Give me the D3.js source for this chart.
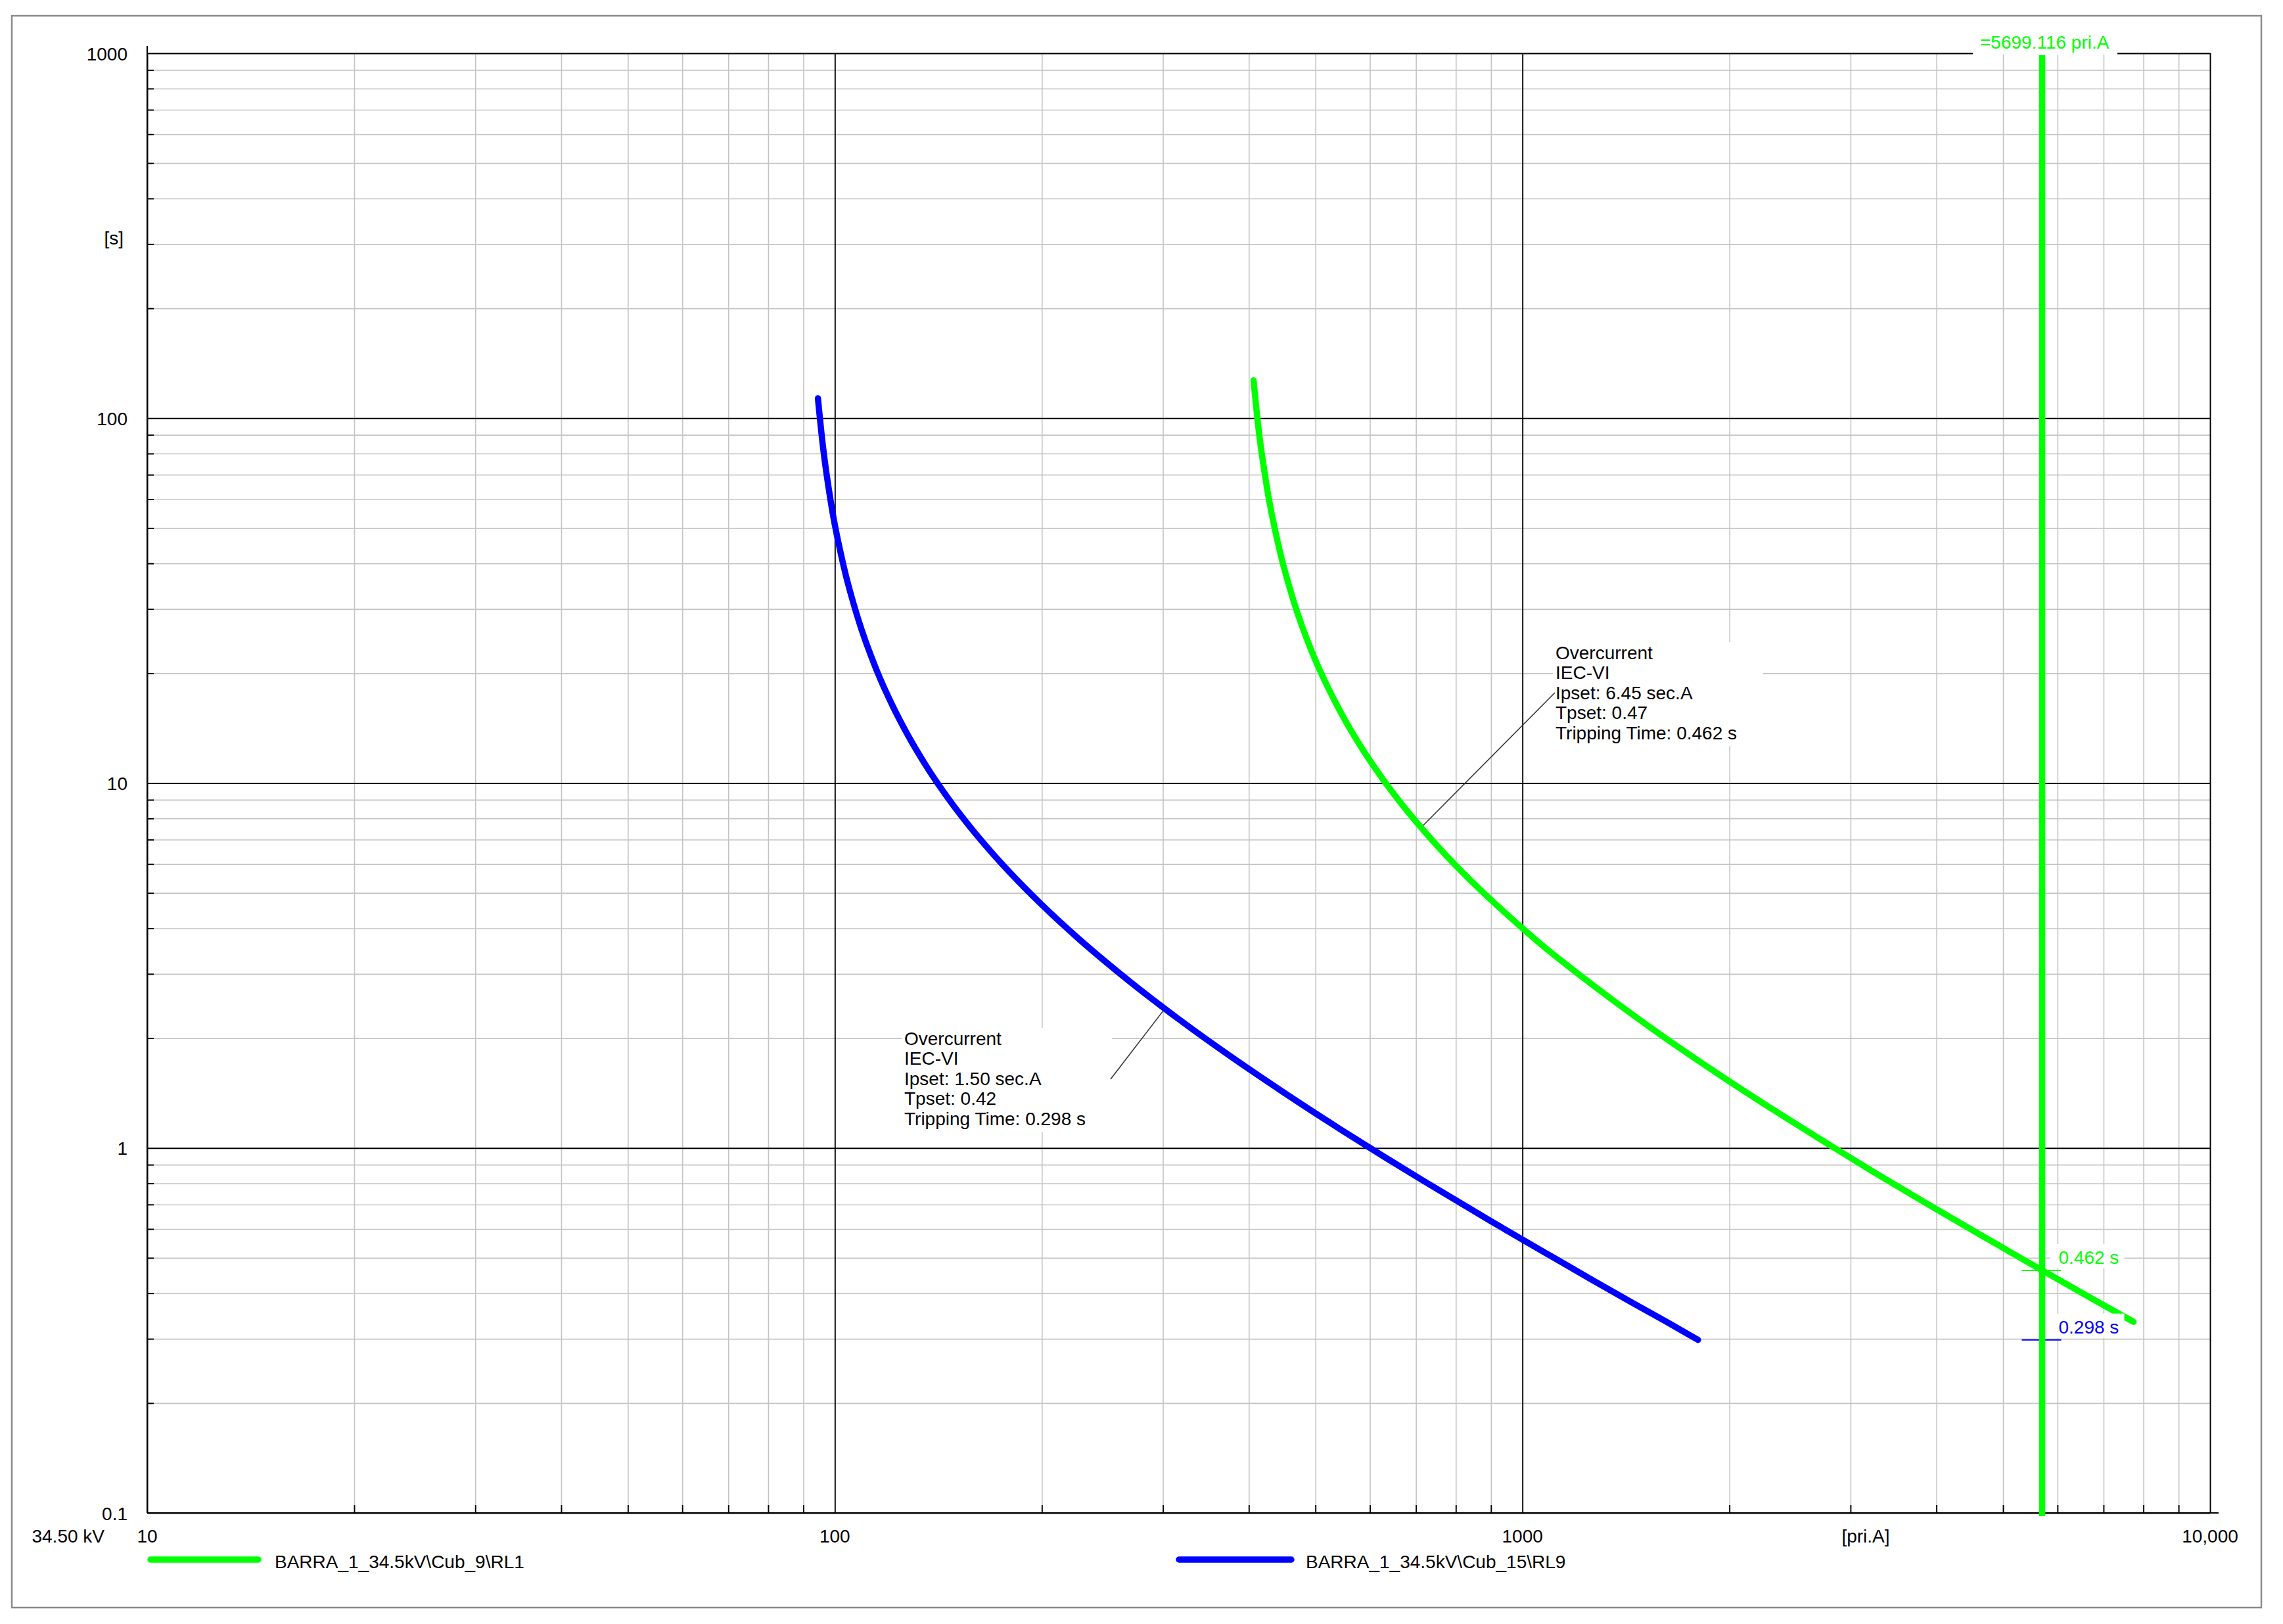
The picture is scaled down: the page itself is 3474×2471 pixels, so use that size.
<!DOCTYPE html>
<html lang="en">
<head>
<meta charset="utf-8">
<style>
	html, body { margin: 0; padding: 0; background: white; }
	svg { display: block; font-family: "Liberation Sans", Arial, sans-serif; }
	.minor line { stroke: #c4c4c4; stroke-width: 1.6px; }
	.major line { stroke: black; stroke-width: 1.9px; }
	.tickmarks line { stroke: black; stroke-width: 1.9px; }
	.lbl { font-size: 28px; fill: black; }
	.curve { fill: none; stroke-width: 9.5px; stroke-linecap: round; stroke-linejoin: round; }
</style>
<script src="https://cdn.jsdelivr.net/npm/d3@7"></script>
</head>
<body>
<script>
var width = 3474,
	height = 2471;

// axis ticks and labels
var xMajor = [10, 100, 1000, 10000];
var xTickLabels = ["10", "100", "1000", "10,000"];
var yMajor = [0.1, 1, 10, 100, 1000];
var yTickLabels = ["0.1", "1", "10", "100", "1000"];

// BARRA_1_34.5kV\Cub_15\RL9 (blue), current [pri.A] / time [s]
var rl9Current = [94.5, 96, 99, 103, 108, 115, 121.5, 128, 135, 146, 157.5, 170, 180, 200, 225, 250, 270, 315, 360, 450, 540, 630, 720, 900, 1080, 1260, 1440, 1620, 1800];
var rl9Time = [113.4, 85.1, 56.7, 39.3, 28.35, 20.4, 16.2, 13.43, 11.34, 9.11, 7.56, 6.38, 5.67, 4.64, 3.78, 3.19, 2.835, 2.268, 1.89, 1.418, 1.134, 0.945, 0.81, 0.63, 0.516, 0.436, 0.378, 0.334, 0.298];

// BARRA_1_34.5kV\Cub_9\RL1 (green)
var rl1Current = [406.4, 412.8, 425.7, 442.9, 464.4, 494.5, 522.5, 550.4, 580.5, 627.8, 677.3, 731, 774, 860, 967.5, 1075, 1161, 1354.5, 1548, 1935, 2322, 2709, 3096, 3870, 4644, 5418, 6192, 6966, 7740];
var rl1Time = [126.9, 95.2, 63.45, 43.9, 31.7, 22.8, 18.13, 15.03, 12.69, 10.2, 8.46, 7.14, 6.345, 5.19, 4.23, 3.56, 3.17, 2.54, 2.115, 1.586, 1.269, 1.058, 0.906, 0.705, 0.577, 0.488, 0.423, 0.373, 0.334];

var faultCurrent = 5699.116;
var tripTimes = [0.462, 0.298];
var tripColors = ["#00ff00", "#0000ff"];

var rl1Text = ["Overcurrent", "IEC-VI", "Ipset: 6.45 sec.A", "Tpset: 0.47", "Tripping Time: 0.462 s"];
var rl9Text = ["Overcurrent", "IEC-VI", "Ipset: 1.50 sec.A", "Tpset: 0.42", "Tripping Time: 0.298 s"];
var rl1Anchor = [712, 7.55];
var rl9Anchor = [302, 2.41];

var svg = d3.select("body").append("svg")
	.attr("width", width)
	.attr("height", height);

svg.append("rect")
	.attr("x", 18).attr("y", 24)
	.attr("width", 3423).attr("height", 2422)
	.attr("fill", "white")
	.attr("stroke", "#8a8a8a")
	.attr("stroke-width", 2.5);

var pLeft = 224, pRight = 3363, pTop = 81, pBottom = 2302;

var x = d3.scaleLog().domain([10, 10000]).range([pLeft, pRight]);
var y = d3.scaleLog().domain([0.1, 1000]).range([pBottom, pTop]);

function isDecade(d) {
	var l = Math.log10(d);
	return Math.abs(l - Math.round(l)) < 1e-6;
}
var minorX = x.ticks().filter(function(d) { return !isDecade(d); });
var minorY = y.ticks().filter(function(d) { return !isDecade(d); });

function noDomain(g) { g.select(".domain").remove(); }

// grid
svg.append("g").attr("class", "minor")
	.attr("transform", "translate(0," + pBottom + ")")
	.call(d3.axisBottom(x).tickValues(minorX).tickSize(-(pBottom - pTop)).tickFormat(""))
	.call(noDomain);
svg.append("g").attr("class", "minor")
	.attr("transform", "translate(" + pLeft + ",0)")
	.call(d3.axisLeft(y).tickValues(minorY).tickSize(-(pRight - pLeft)).tickFormat(""))
	.call(noDomain);
svg.append("g").attr("class", "major")
	.attr("transform", "translate(0," + pBottom + ")")
	.call(d3.axisBottom(x).tickValues(xMajor).tickSize(-(pBottom - pTop)).tickFormat(""))
	.call(noDomain);
svg.append("g").attr("class", "major")
	.attr("transform", "translate(" + pLeft + ",0)")
	.call(d3.axisLeft(y).tickValues(yMajor).tickSize(-(pRight - pLeft)).tickFormat(""))
	.call(noDomain);

// short ticks on the axes
svg.append("g").attr("class", "tickmarks")
	.attr("transform", "translate(0," + pBottom + ")")
	.call(d3.axisBottom(x).tickValues(minorX).tickSize(-12).tickFormat(""))
	.call(noDomain);
svg.append("g").attr("class", "tickmarks")
	.attr("transform", "translate(" + pLeft + ",0)")
	.call(d3.axisLeft(y).tickValues(minorY).tickSize(-10).tickFormat(""))
	.call(noDomain);

// axis lines
svg.append("line").attr("x1", pLeft).attr("x2", pLeft).attr("y1", pTop - 11).attr("y2", pBottom)
	.attr("stroke", "black").attr("stroke-width", 2.2);
svg.append("line").attr("x1", pLeft).attr("x2", pRight + 13).attr("y1", pBottom).attr("y2", pBottom)
	.attr("stroke", "black").attr("stroke-width", 2.2);

// tick labels
svg.selectAll(".xlab").data(xMajor).enter().append("text")
	.attr("class", "lbl")
	.attr("x", function(d) { return x(d); })
	.attr("y", 2337)
	.attr("text-anchor", "middle")
	.attr("dominant-baseline", "central")
	.text(function(d, i) { return xTickLabels[i]; });
svg.selectAll(".ylab").data(yMajor).enter().append("text")
	.attr("class", "lbl")
	.attr("x", 194)
	.attr("y", function(d) { return y(d) + 1; })
	.attr("text-anchor", "end")
	.attr("dominant-baseline", "central")
	.text(function(d, i) { return yTickLabels[i]; });

svg.append("text").attr("class", "lbl").attr("x", 188).attr("y", 362)
	.attr("text-anchor", "end").attr("dominant-baseline", "central").text("[s]");
svg.append("text").attr("class", "lbl").attr("x", 2839).attr("y", 2337)
	.attr("text-anchor", "middle").attr("dominant-baseline", "central").text("[pri.A]");
svg.append("text").attr("class", "lbl").attr("x", 159).attr("y", 2337)
	.attr("text-anchor", "end").attr("dominant-baseline", "central").text("34.50 kV");

// annotation boxes
function annotation(lines, tx, ty, anchor, lx, ly) {
	svg.append("rect")
		.attr("x", tx - 4).attr("y", ty - 16)
		.attr("width", 320).attr("height", 30.5 * (lines.length - 1) + 36)
		.attr("fill", "white");
	svg.append("line")
		.attr("x1", x(anchor[0])).attr("y1", y(anchor[1]))
		.attr("x2", lx).attr("y2", ly)
		.attr("stroke", "#333").attr("stroke-width", 1.6);
	svg.selectAll(null).data(lines).enter().append("text")
		.attr("class", "lbl")
		.attr("x", tx)
		.attr("y", function(d, i) { return ty + i * 30.5; })
		.attr("dominant-baseline", "central")
		.text(function(d) { return d; });
}
annotation(rl1Text, 2367, 993, rl1Anchor, 2366, 1054);
annotation(rl9Text, 1376, 1580, rl9Anchor, 1690, 1642);

// curves
var line = d3.line()
	.x(function(d) { return x(d[0]); })
	.y(function(d) { return y(d[1]); })
	.curve(d3.curveMonotoneX);

svg.append("path").attr("class", "curve")
	.datum(d3.zip(rl9Current, rl9Time))
	.attr("stroke", "#0000ff")
	.attr("d", line);
svg.append("path").attr("class", "curve")
	.datum(d3.zip(rl1Current, rl1Time))
	.attr("stroke", "#00ff00")
	.attr("d", line);

// tripping time markers at the fault current
var fx = x(faultCurrent);
tripTimes.forEach(function(t, i) {
	var ty = y(t);
	svg.append("rect")
		.attr("x", fx + 12).attr("y", ty - 40)
		.attr("width", 113).attr("height", 37)
		.attr("fill", "white");
	svg.append("line")
		.attr("x1", fx - 31).attr("x2", fx + 29)
		.attr("y1", ty).attr("y2", ty)
		.attr("stroke", tripColors[i]).attr("stroke-width", 2);
	svg.append("text").attr("class", "lbl")
		.attr("x", fx + 25).attr("y", ty - 19)
		.attr("dominant-baseline", "central")
		.style("fill", tripColors[i])
		.text(t.toFixed(3) + " s");
});

// fault current line
svg.append("rect")
	.attr("x", 3002).attr("y", 46)
	.attr("width", 220).attr("height", 37)
	.attr("fill", "white");
svg.append("line")
	.attr("x1", fx).attr("x2", fx)
	.attr("y1", y(1000) + 3).attr("y2", y(0.1) + 5)
	.attr("stroke", "#00ff00")
	.attr("stroke-width", 9.5);
svg.append("text").attr("class", "lbl")
	.attr("x", 3013).attr("y", 64)
	.attr("dominant-baseline", "central")
	.style("fill", "#00ff00")
	.text("=" + faultCurrent.toFixed(3) + " pri.A");

// legend
var legend = [
	{ name: "BARRA_1_34.5kV\\Cub_9\\RL1", color: "#00ff00", x0: 229, x1: 393, tx: 418 },
	{ name: "BARRA_1_34.5kV\\Cub_15\\RL9", color: "#0000ff", x0: 1794, x1: 1965, tx: 1987 }
];
legend.forEach(function(d) {
	svg.append("line")
		.attr("x1", d.x0).attr("x2", d.x1)
		.attr("y1", 2373).attr("y2", 2373)
		.attr("stroke", d.color)
		.attr("stroke-width", 9.5)
		.attr("stroke-linecap", "round");
	svg.append("text").attr("class", "lbl")
		.attr("x", d.tx).attr("y", 2376)
		.attr("dominant-baseline", "central")
		.text(d.name);
});
</script>
</body>
</html>
